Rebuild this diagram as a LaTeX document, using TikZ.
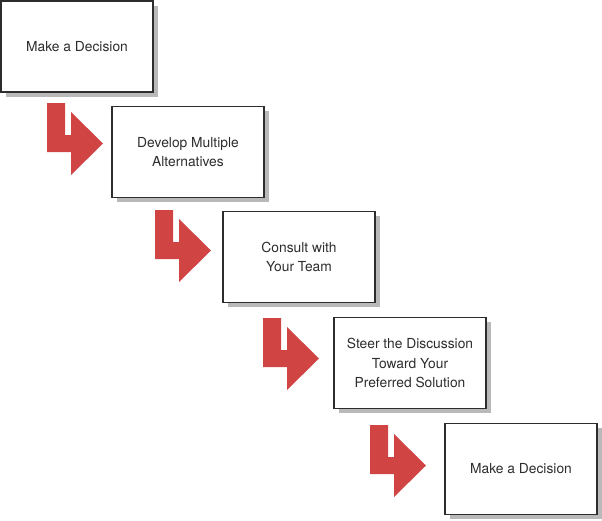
\documentclass[tikz,border=0pt]{standalone}
\usepackage{fontspec}
\setmainfont{TeX Gyre Heros}
\usetikzlibrary{shadows}

\definecolor{arrowred}{RGB}{208,68,68}
\definecolor{boxframe}{RGB}{45,45,45}
\definecolor{boxshadow}{RGB}{185,185,185}
\definecolor{textgray}{RGB}{45,45,45}

\tikzset{
    stepbox/.style={draw=boxframe, line width=1.4pt, fill=white,
        minimum width=152pt, minimum height=91pt, inner sep=0pt,
        align=center, text=textgray, font=\fontsize{13.8}{19.5}\selectfont,
        drop shadow={shadow xshift=4.5pt, shadow yshift=-4.5pt, fill=boxshadow, opacity=1}},
    turnarrow/.style={fill=arrowred, draw=none}
}

\begin{document}
\begin{tikzpicture}[x=1pt, y=-1pt]

    \useasboundingbox (0,0) rectangle (602,520);

    % --- Kaskade der Schritte ---
    \node[stepbox] (decide)  at (77,46.5) {Make a Decision};
    \node[stepbox] (develop) at (188,152) {Develop Multiple\\Alternatives};
    \node[stepbox] (consult) at (299,257) {Consult with\\Your Team};
    \node[stepbox] (steer)   at (410,363) {Steer the Discussion\\Toward Your\\Preferred Solution};
    \node[stepbox] (final)   at (521,469) {Make a Decision};

    % --- Rote Winkelpfeile zwischen den Kästen ---
    \foreach \ax/\ay in {47/103, 155/210, 263/318, 370/425}{
        \fill[turnarrow, shift={(\ax,\ay)}]
            (0,0) -- (18,0) -- (18,32) -- (24,32) -- (24,9) -- (56,40.5)
            -- (24,72) -- (24,49) -- (0,49) -- cycle;
    }

\end{tikzpicture}
\end{document}
